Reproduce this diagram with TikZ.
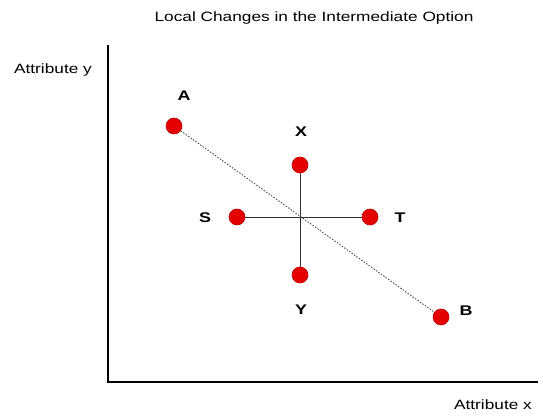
\documentclass[tikz,border=0pt]{standalone}
\usepackage{fontspec}
\setmainfont{Liberation Sans}
\newfontfamily\widefont[FakeStretch=1.28]{Liberation Sans}
\begin{document}
\begin{tikzpicture}[x=1pt,y=-1pt,
  dot/.style={circle,fill=red!90!black,draw=red!75!black,line width=0.6pt,minimum size=16pt,inner sep=0pt},
  lbl/.style={font=\widefont\bfseries\fontsize{14}{16}\selectfont},
  axlbl/.style={font=\widefont\fontsize{13.5}{15}\selectfont},
  axisline/.style={line width=2.2pt,black}]
\useasboundingbox (0,0) rectangle (543,419);
\node[font=\widefont\fontsize{13.5}{15}\selectfont] (title) at (314,18) {Local Changes in the Intermediate Option};
\coordinate (top) at (108,45);
\coordinate (origin) at (108,382);
\coordinate (right) at (538,382);
\draw[axisline] (top) -- (origin) -- (right);
\node[axlbl] (ay) at (53,70) {Attribute y};
\node[axlbl] (ax) at (493,405) {Attribute x};
\node[dot] (A) at (174,126) {};
\node[dot] (X) at (300,165) {};
\node[dot] (S) at (237,217) {};
\node[dot] (T) at (370,217) {};
\node[dot] (Y) at (300,275) {};
\node[dot] (B) at (441,317) {};
\draw[line width=0.9pt,black!80] (S) -- (T);
\draw[line width=0.9pt,black!80] (X) -- (Y);
\draw[dash pattern=on 1.5pt off 1.5pt,line width=0.8pt,black!75] (A) -- (B);
\node[lbl] (lA) at (184,96) {A};
\node[lbl] (lX) at (301,132) {X};
\node[lbl] (lS) at (205,218) {S};
\node[lbl] (lT) at (400,218) {T};
\node[lbl] (lY) at (301,310) {Y};
\node[lbl] (lB) at (466,311) {B};
\end{tikzpicture}
\end{document}
